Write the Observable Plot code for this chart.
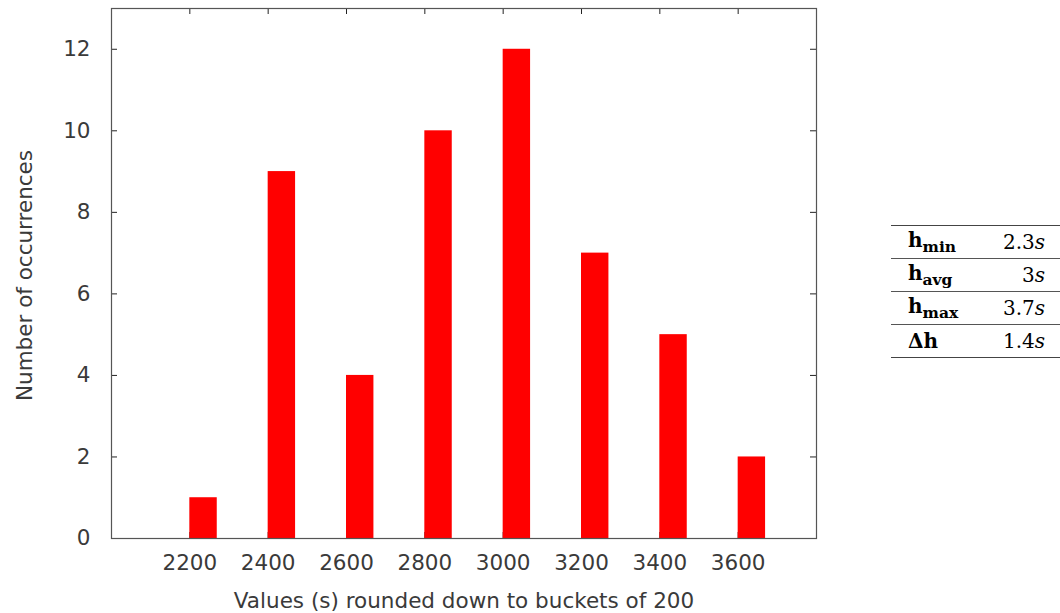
<!DOCTYPE html>
<html>
<head>
<meta charset="utf-8">
<script src="https://cdn.jsdelivr.net/npm/d3@7"></script>
<script src="https://cdn.jsdelivr.net/npm/@observablehq/plot@0.6"></script>
<style>
  html, body { margin: 0; padding: 0; background: #fff; }
  #wrap { position: relative; width: 1060px; height: 613px; overflow: hidden; }
  #stats { position: absolute; left: 891px; top: 225px; width: 169px; border-collapse: collapse;
    font-family: "DejaVu Serif", serif; font-size: 20px; color: #000; }
  #stats td { height: 32px; padding: 0; vertical-align: middle; }
  #stats td.k { padding-left: 17px; text-align: left; font-weight: bold; }
  #stats td.v { padding-right: 15px; text-align: right; }
  #stats tr { border-bottom: 1px solid #555; }
  #stats tr:first-child { border-top: 1.6px solid #444; }
  #stats tr:last-child { border-bottom: 1.6px solid #444; }
  #stats sub { font-size: 15.5px; vertical-align: -5px; }
  #stats i { font-style: italic; }
</style>
</head>
<body>
<div id="wrap"><div id="chart"></div><table id="stats"></table></div>
<script>
// ---- data ----
const buckets = [2200, 2400, 2600, 2800, 3000, 3200, 3400, 3600];
const counts = [1, 9, 4, 10, 12, 7, 5, 2];
const xTicks = [2200, 2400, 2600, 2800, 3000, 3200, 3400, 3600];
const yTicks = [0, 2, 4, 6, 8, 10, 12];
const statNames = ["min", "avg", "max"];
const statValues = ["2.3", "3", "3.7", "1.4"];
const xLabel = "Values (s) rounded down to buckets of 200";
const yLabel = "Number of occurrences";

const xDomain = [2000, 3800];
const yDomain = [0, 13];
const bucketWidth = 70;

const W = 860, H = 613;
const mL = 111, mR = 44, mT = 8, mB = 75;
const tickPx = 6;
const xTickLen = (xDomain[1] - xDomain[0]) * tickPx / (W - mL - mR);
const yTickLen = (yDomain[1] - yDomain[0]) * tickPx / (H - mT - mB);

const bars = buckets.map((b, i) => ({b, c: counts[i]}));
const tickColor = "#222";
const FS = 21.5;

const plot = Plot.plot({
  width: W, height: H,
  marginLeft: mL, marginRight: mR, marginTop: mT, marginBottom: mB,
  style: {fontFamily: "DejaVu Sans, sans-serif", fontSize: FS + "px", background: "#fff", color: "#3a3a3a"},
  x: {domain: xDomain},
  y: {domain: yDomain},
  marks: [
    Plot.ruleX(xTicks, {x: d => d, y1: yDomain[0], y2: yDomain[0] + yTickLen, stroke: tickColor}),
    Plot.ruleX(xTicks, {x: d => d, y1: yDomain[1] - yTickLen, y2: yDomain[1], stroke: tickColor}),
    Plot.ruleY(yTicks, {y: d => d, x1: xDomain[0], x2: xDomain[0] + xTickLen, stroke: tickColor}),
    Plot.ruleY(yTicks, {y: d => d, x1: xDomain[1] - xTickLen, x2: xDomain[1], stroke: tickColor}),
    Plot.rectY(bars, {x1: d => d.b, x2: d => d.b + bucketWidth, y1: 0, y2: d => d.c, fill: "#ff0000"}),
    Plot.frame({stroke: "#555", strokeWidth: 1.2}),
    Plot.axisX({ticks: xTicks, tickSize: 0, tickPadding: 16, fontSize: FS, fill: "#3a3a3a", label: null, tickFormat: d => String(d)}),
    Plot.axisY({ticks: yTicks, tickSize: 0, tickPadding: 21, fontSize: FS, fill: "#3a3a3a", label: null}),
    Plot.text([xLabel], {text: d => d, frameAnchor: "bottom", lineAnchor: "bottom", dy: 69, fontSize: FS, fill: "#3a3a3a"}),
    Plot.text([yLabel], {text: d => d, frameAnchor: "left", textAnchor: "middle", rotate: -90, lineAnchor: "bottom", dx: -80, dy: 2, fontSize: FS, fill: "#3a3a3a"})
  ]
});
document.getElementById("chart").appendChild(plot);

// stats table
const tbl = document.getElementById("stats");
const rows = statNames.map((n, i) => [`h<sub>${n}</sub>`, statValues[i]]);
rows.push([`&Delta;h`, statValues[3]]);
tbl.innerHTML = rows.map(([k, v]) => `<tr><td class="k">${k}</td><td class="v">${v}<i>s</i></td></tr>`).join("");
</script>
</body>
</html>
